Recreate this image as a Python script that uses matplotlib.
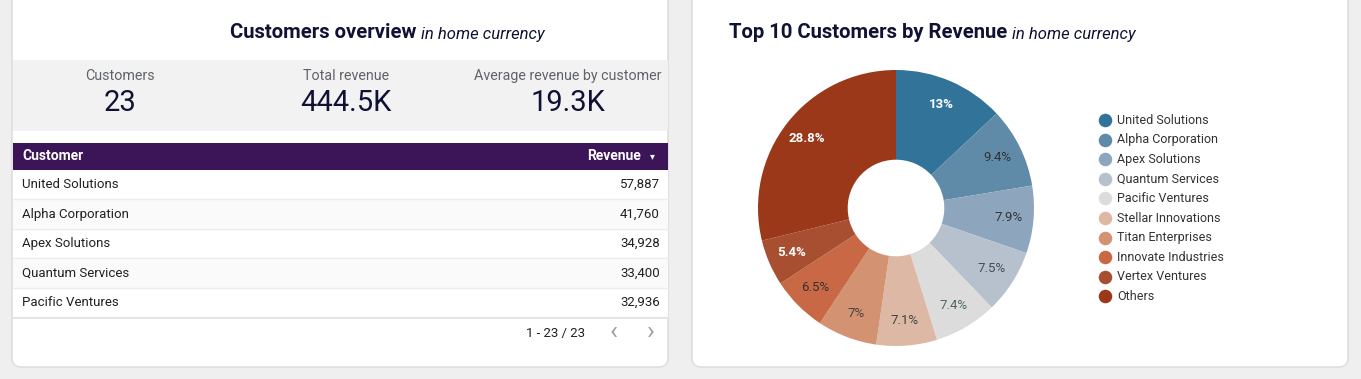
import matplotlib.pyplot as plt
from matplotlib.patches import FancyBboxPatch, Rectangle

plt.rcParams['font.family'] = ['Roboto', 'DejaVu Sans']

# KPI strip
kpi_labels = ['Customers', 'Total revenue', 'Average revenue by customer']
kpi_values = ['23', '444.5K', '19.3K']

# table rows
table_customers = ['United Solutions', 'Alpha Corporation', 'Apex Solutions',
                   'Quantum Services', 'Pacific Ventures']
table_revenue = [57887, 41760, 34928, 33400, 32936]
page_text = '1 - 23 / 23'

# donut
pie_labels = ['United Solutions', 'Alpha Corporation', 'Apex Solutions', 'Quantum Services',
              'Pacific Ventures', 'Stellar Innovations', 'Titan Enterprises',
              'Innovate Industries', 'Vertex Ventures', 'Others']
pie_shares = [13, 9.4, 7.9, 7.5, 7.4, 7.1, 7, 6.5, 5.4, 28.8]
pie_colors = ['#327399', '#5f8aa8', '#8ea6bd', '#b7c1ce', '#dcdcdc',
              '#dcb8a5', '#d39272', '#c96844', '#a84f31', '#9a3819']
pct_colors = ['white', '#333333', '#333333', '#3d4f57', '#4d6666',
              '#444444', '#444444', '#333333', 'white', 'white']

W, H = 1361, 379
DARK = '#0f1235'

fig = plt.figure(figsize=(W / 100, H / 100), dpi=100)
fig.patch.set_facecolor('#efefef')

bg = fig.add_axes([0, 0, 1, 1])
bg.set_xlim(0, W)
bg.set_ylim(H, 0)
bg.axis('off')


def card(x0, x1, y0, y1):
    bg.add_patch(FancyBboxPatch((x0, y0), x1 - x0, y1 - y0,
                                boxstyle='round,pad=0,rounding_size=9',
                                fc='white', ec='#d9d9d9', lw=1))


def title(x, bold, rest):
    t = bg.text(x, 33, bold, fontsize=14.6, fontweight='bold', color=DARK, va='center')
    r = fig.canvas.get_renderer()
    ext = t.get_window_extent(r)
    bg.text(ext.x1 + 5, 34, rest, fontsize=12, style='italic', color=DARK, va='center')


# left card
card(12, 668, -10, 367)
title(230, 'Customers overview', 'in home currency')

bg.add_patch(Rectangle((13, 60), 655, 71, fc='#f2f2f2', ec='none'))
kpi_x = [120, 346, 568]
for x, lab, val in zip(kpi_x, kpi_labels, kpi_values):
    bg.text(x, 76, lab, fontsize=10.3, color='#5f6368', ha='center', va='center')
    bg.text(x, 103, val, fontsize=21, color=DARK, ha='center', va='center')

bg.add_patch(Rectangle((13, 143), 655, 27, fc='#3c1558', ec='none'))
bg.text(22, 156.5, 'Customer', fontsize=10, fontweight='bold', color='white', va='center')
bg.text(641, 156.5, 'Revenue', fontsize=10, fontweight='bold', color='white', va='center', ha='right')
bg.text(652, 156, '\u25BE', fontsize=7, color='white', va='center', ha='center', family='DejaVu Sans')

row_h = 29.4
for i, (name, rev) in enumerate(zip(table_customers, table_revenue)):
    y0 = 170 + i * row_h
    bg.add_patch(Rectangle((13, y0), 655, row_h, fc='white' if i % 2 == 0 else '#fafafa', ec='none'))
    bg.plot([13, 668], [y0 + row_h, y0 + row_h], color='#ececec', lw=1)
    bg.text(22, y0 + row_h / 2, name, fontsize=9.5, color='#202124', va='center')
    bg.text(660, y0 + row_h / 2, f'{rev:,}', fontsize=9.5, color='#202124', va='center', ha='right')
bg.plot([13, 668], [317.5, 317.5], color='#e2e2e2', lw=1.2)

bg.text(585, 333, page_text, fontsize=9.5, color='#202124', va='center', ha='right')
bg.text(614, 332, '\u2039', fontsize=19, color='#9aa0a6', va='center', ha='center')
bg.text(651, 332, '\u203A', fontsize=19, color='#9aa0a6', va='center', ha='center')

# right card
card(692, 1348, -10, 367)
title(729, 'Top 10 Customers by Revenue', 'in home currency')

for i, (lab, col) in enumerate(zip(pie_labels, pie_colors)):
    y = 120 + i * 19.6
    bg.scatter(1105, y, s=95, color=col, marker='o', lw=0)
    bg.text(1117, y, lab, fontsize=9, color='#333333', va='center')

# donut axes, centre (896, 208), radius 138 px
cx, cy, rad = 896, 208, 138
ax = fig.add_axes([(cx - rad) / W, (H - cy - rad) / H, 2 * rad / W, 2 * rad / H])
wedges, _, pcts = ax.pie(pie_shares, colors=pie_colors, startangle=90, counterclock=False,
                         radius=1, pctdistance=0.82,
                         autopct=lambda p: f'{p:.1f}'.rstrip('0').rstrip('.') + '%',
                         wedgeprops=dict(width=0.65, linewidth=0))
for t, c in zip(pcts, pct_colors):
    t.set_color(c)
    t.set_fontsize(9.5)
    if c == 'white':
        t.set_fontweight('bold')
ax.set_xlim(-1, 1)
ax.set_ylim(-1, 1)
ax.set_aspect('equal')
ax.axis('off')

fig.savefig('out.png', dpi=100, facecolor=fig.get_facecolor())
